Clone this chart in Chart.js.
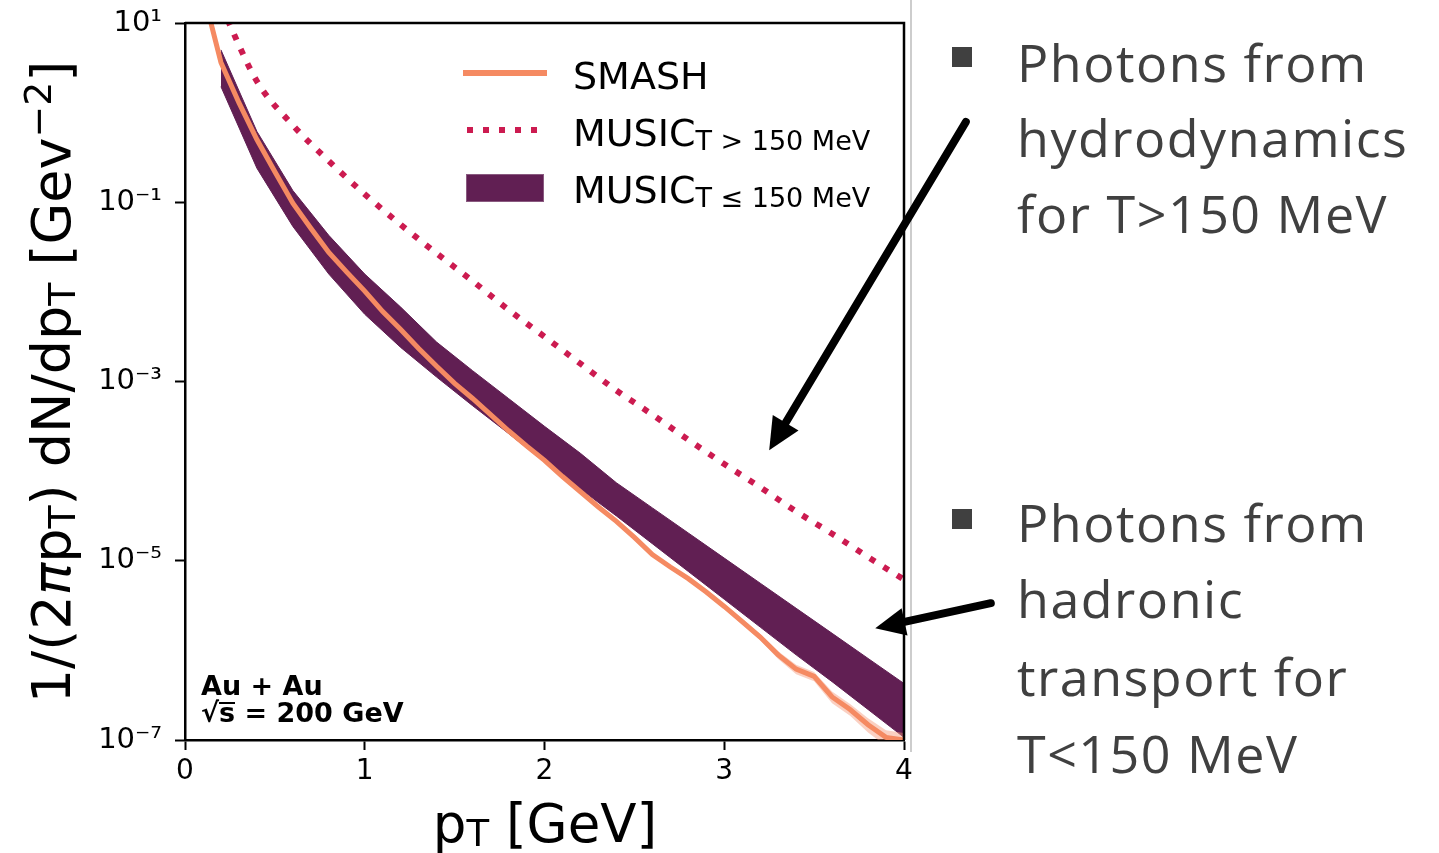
<!DOCTYPE html>
<html>
<head>
<meta charset="utf-8">
<script src="https://cdn.jsdelivr.net/npm/chart.js@4"></script>
<style>
  body { margin: 0; background: #fff; }
  #wrap { position: relative; width: 1439px; height: 853px; overflow: hidden; }
  #plot { position: absolute; left: 0; top: 0; }
  .t { position: absolute; white-space: nowrap; line-height: 1; font-family: "DejaVu Sans"; color: #000; }
  .sub { font-size: 0.7em; position: relative; top: 0.12em; }
  .sup { font-size: 0.7em; position: relative; top: -0.5em; }
  .leg { font-size: 38px; }
  .leg .sub { font-size: 27px; top: 4px; }
  .bold { font-weight: bold; font-size: 27px; }
  .bar { display: inline-block; border-top: 2.5px solid #000; line-height: 17px; }
  .note { font-family: "Open Sans"; font-size: 52px; letter-spacing: 1.5px; color: #404040; left: 1017px; }
  .bullet { position: absolute; width: 20px; height: 20px; background: #404040; left: 952px; }
</style>
</head>
<body>
<div id="wrap">
  <canvas id="plot" width="1439" height="853"></canvas>

  <div class="t leg" style="left:573px; top:57px;">SMASH</div>
  <div class="t leg" style="left:573px; top:114px;">MUSIC<span class="sub">T &gt; 150 MeV</span></div>
  <div class="t leg" style="left:573px; top:171px;">MUSIC<span class="sub">T ≤ 150 MeV</span></div>

  <div class="t bold" style="left:201px; top:672px;">Au + Au</div>
  <div class="t bold" style="left:201px; top:699px;">√<span class="bar">s</span> = 200 GeV</div>

  <div class="t" style="left:345px; top:797px; width:400px; text-align:center; font-size:53px;">p<span class="sub">T</span> [GeV]</div>
  <div class="t" style="left:-348px; top:355px; width:800px; text-align:center; font-size:54px; transform:rotate(-90deg);">1/(2<i>π</i>p<span class="sub">T</span>) dN/dp<span class="sub">T</span> [Gev<span class="sup">−2</span>]</div>

  <div class="bullet" style="top:47px;"></div>
  <div class="t note" style="top:36px;">Photons from</div>
  <div class="t note" style="top:111px;">hydrodynamics</div>
  <div class="t note" style="top:187px;">for T&gt;150 MeV</div>

  <div class="bullet" style="top:509px;"></div>
  <div class="t note" style="top:496px;">Photons from</div>
  <div class="t note" style="top:572px;">hadronic</div>
  <div class="t note" style="top:650px;">transport for</div>
  <div class="t note" style="top:727px;">T&lt;150 MeV</div>
</div>

<script>
// transverse momentum grid of the SMASH spectrum
const pT = [0.1, 0.2, 0.3, 0.4, 0.5, 0.6, 0.7, 0.8, 0.9, 1.0,
            1.1, 1.2, 1.3, 1.4, 1.5, 1.6, 1.7, 1.8, 1.9, 2.0,
            2.1, 2.2, 2.3, 2.4, 2.5, 2.6, 2.7, 2.8, 2.9, 3.0,
            3.1, 3.2, 3.3, 3.4, 3.5, 3.6, 3.7, 3.8, 3.9, 4.0];
const smash = [2.24e1, 3.63e0, 1.29e0, 5.01e-1, 2.19e-1, 9.77e-2, 5.13e-2, 2.75e-2, 1.66e-2, 1.02e-2,
               6.03e-3, 3.80e-3, 2.34e-3, 1.48e-3, 9.55e-4, 6.46e-4, 4.27e-4, 2.82e-4, 1.91e-4, 1.32e-4,
               8.71e-5, 5.89e-5, 3.98e-5, 2.75e-5, 1.82e-5, 1.17e-5, 8.51e-6, 6.31e-6, 4.47e-6, 3.09e-6,
               2.09e-6, 1.41e-6, 8.91e-7, 6.17e-7, 5.13e-7, 3.02e-7, 2.19e-7, 1.48e-7, 1.07e-7, 1.00e-7];
// relative statistical error of SMASH
const smashErr = [0.03, 0.03, 0.03, 0.03, 0.03, 0.03, 0.03, 0.03, 0.03, 0.03,
                  0.03, 0.03, 0.03, 0.03, 0.03, 0.03, 0.03, 0.03, 0.03, 0.03,
                  0.03, 0.03, 0.03, 0.03, 0.04, 0.05, 0.05, 0.05, 0.06, 0.06,
                  0.08, 0.08, 0.10, 0.12, 0.12, 0.15, 0.15, 0.18, 0.20, 0.20];

// hydro grid
const hydroPt = [0.2, 0.4, 0.6, 0.8, 1.0, 1.2, 1.4, 1.6, 1.8, 2.0,
                 2.2, 2.4, 2.6, 2.8, 3.0, 3.2, 3.4, 3.6, 3.8, 4.0];
const musicHot = [1.58e1, 2.24e0, 7.24e-1, 2.88e-1, 1.23e-1, 5.62e-2, 2.69e-2, 1.32e-2, 6.31e-3, 3.16e-3,
                  1.58e-3, 7.94e-4, 4.27e-4, 2.24e-4, 1.20e-4, 6.61e-5, 3.55e-5, 2.00e-5, 1.10e-5, 6.17e-6];
const musicColdHigh = [5.01e0, 6.17e-1, 1.35e-1, 4.27e-2, 1.58e-2, 6.76e-3, 2.75e-3, 1.32e-3, 6.46e-4, 3.16e-4,
                       1.58e-4, 7.41e-5, 3.89e-5, 2.04e-5, 1.07e-5, 5.62e-6, 2.95e-6, 1.55e-6, 8.13e-7, 4.27e-7];
const musicColdLow = [1.95e0, 2.40e-1, 5.37e-2, 1.58e-2, 5.62e-3, 2.40e-3, 1.12e-3, 5.37e-4, 2.63e-4, 1.26e-4,
                      6.31e-5, 3.16e-5, 1.55e-5, 7.59e-6, 3.72e-6, 1.82e-6, 8.91e-7, 4.47e-7, 2.19e-7, 1.07e-7];

const xTicks = [0, 1, 2, 3, 4];
const yTicks = [1e1, 1e-1, 1e-3, 1e-5, 1e-7];
const yTickLabels = ['10¹', '10⁻¹', '10⁻³', '10⁻⁵', '10⁻⁷'];

// arrows pointing from the side notes into the plot, in (pT, yield)
const hydroArrow = [[4.344, 0.785], [3.25, 1.71e-4]];
const hadronArrow = [[4.483, 3.36e-6], [3.84, 1.77e-6]];

const ORANGE = '#f58a62';
const CRIMSON = '#cc1b50';
const PURPLE = '#611f53';

const pts = (xs, ys) => xs.map((x, i) => ({ x: x, y: ys[i] }));

const framePlugin = {
    id: 'frame',
    afterDatasetsDraw(chart) {
        const { ctx, chartArea: a } = chart;
        ctx.save();
        ctx.strokeStyle = '#000';
        ctx.lineWidth = 2.5;
        ctx.beginPath();
        ctx.moveTo(a.left, a.top);
        ctx.lineTo(a.right, a.top);
        ctx.lineTo(a.right, a.bottom);
        ctx.stroke();
        // thin rule just right of the frame
        ctx.strokeStyle = '#bdbdbd';
        ctx.lineWidth = 1.5;
        ctx.beginPath();
        ctx.moveTo(a.right + 7, 0);
        ctx.lineTo(a.right + 7, a.bottom + 12);
        ctx.stroke();
        ctx.restore();
    },
    afterDraw(chart) {
        const { ctx } = chart;
        const xs = chart.scales.x, ys = chart.scales.y;

        // legend keys
        ctx.save();
        ctx.lineCap = 'butt';
        ctx.strokeStyle = ORANGE;
        ctx.lineWidth = 6;
        ctx.beginPath(); ctx.moveTo(463, 73); ctx.lineTo(547, 73); ctx.stroke();
        ctx.strokeStyle = CRIMSON;
        ctx.setLineDash([6, 10]);
        ctx.beginPath(); ctx.moveTo(467, 130); ctx.lineTo(540, 130); ctx.stroke();
        ctx.setLineDash([]);
        ctx.fillStyle = PURPLE;
        ctx.fillRect(466, 174, 78, 28);
        ctx.strokeStyle = '#8a5a80';
        ctx.lineWidth = 1;
        ctx.strokeRect(466.5, 174.5, 77, 27);
        ctx.restore();

        // arrows
        const arrow = (pair, head, half) => {
            const x0 = xs.getPixelForValue(pair[0][0]), y0 = ys.getPixelForValue(pair[0][1]);
            const x1 = xs.getPixelForValue(pair[1][0]), y1 = ys.getPixelForValue(pair[1][1]);
            const len = Math.hypot(x1 - x0, y1 - y0);
            const ux = (x1 - x0) / len, uy = (y1 - y0) / len;
            ctx.save();
            ctx.strokeStyle = '#000';
            ctx.fillStyle = '#000';
            ctx.lineWidth = 8;
            ctx.lineCap = 'round';
            ctx.beginPath();
            ctx.moveTo(x0, y0);
            ctx.lineTo(x1 - ux * head * 0.8, y1 - uy * head * 0.8);
            ctx.stroke();
            const bx = x1 - ux * head, by = y1 - uy * head;
            ctx.beginPath();
            ctx.moveTo(x1, y1);
            ctx.lineTo(bx - uy * half, by + ux * half);
            ctx.lineTo(bx + uy * half, by - ux * half);
            ctx.closePath();
            ctx.fill();
            ctx.restore();
        };
        arrow(hydroArrow, 32, 15);
        arrow(hadronArrow, 30, 14);
    }
};

new Chart(document.getElementById('plot'), {
    type: 'line',
    data: {
        datasets: [
            {
                label: 'SMASH',
                data: pts(pT, smash),
                borderColor: ORANGE,
                borderWidth: 5,
                pointRadius: 0,
                fill: false,
                order: 0
            },
            {
                label: 'SMASH err high',
                data: pts(pT, smash.map((v, i) => v * (1 + smashErr[i]))),
                borderWidth: 0,
                pointRadius: 0,
                backgroundColor: 'rgba(245, 150, 120, 0.45)',
                fill: '+1',
                order: 1
            },
            {
                label: 'SMASH err low',
                data: pts(pT, smash.map((v, i) => v * (1 - smashErr[i]))),
                borderWidth: 0,
                pointRadius: 0,
                fill: false,
                order: 1
            },
            {
                label: 'MUSIC T<=150 high',
                data: pts(hydroPt, musicColdHigh),
                borderColor: PURPLE,
                borderWidth: 1,
                pointRadius: 0,
                backgroundColor: PURPLE,
                fill: '+1',
                order: 2
            },
            {
                label: 'MUSIC T<=150 low',
                data: pts(hydroPt, musicColdLow),
                borderColor: PURPLE,
                borderWidth: 1,
                pointRadius: 0,
                fill: false,
                order: 2
            },
            {
                label: 'MUSIC T>150',
                data: pts(hydroPt, musicHot),
                borderColor: CRIMSON,
                borderWidth: 6,
                borderDash: [6, 10],
                borderCapStyle: 'butt',
                pointRadius: 0,
                fill: false,
                cubicInterpolationMode: 'monotone',
                order: 3
            }
        ]
    },
    options: {
        responsive: false,
        animation: false,
        layout: { padding: { top: 23, right: 1439 - 904, left: 0, bottom: 0 } },
        plugins: { legend: { display: false }, tooltip: { enabled: false } },
        scales: {
            x: {
                type: 'linear',
                min: 0,
                max: 4,
                afterFit: s => { s.height = 853 - 740; },
                afterBuildTicks: s => { s.ticks = xTicks.map(v => ({ value: v })); },
                border: { display: true, color: '#000', width: 2.5 },
                grid: { drawOnChartArea: false, drawTicks: true, tickLength: 10, tickWidth: 2, tickColor: '#000' },
                ticks: { color: '#000', padding: 5, font: { family: 'DejaVu Sans', size: 28 }, maxRotation: 0 }
            },
            y: {
                type: 'logarithmic',
                min: 1e-7,
                max: 1e1,
                // fixed axis width; the top label may overhang the frame
                afterFit: s => { s.width = 185; s.paddingTop = 0; s.paddingBottom = 0; },
                afterBuildTicks: s => { s.ticks = yTicks.map(v => ({ value: v })); },
                border: { display: true, color: '#000', width: 2.5 },
                grid: { drawOnChartArea: false, drawTicks: true, tickLength: 10, tickWidth: 2, tickColor: '#000' },
                ticks: {
                    color: '#000',
                    padding: 13,
                    font: { family: 'DejaVu Sans', size: 29 },
                    callback: v => {
                        const i = yTicks.findIndex(t => Math.abs(Math.log10(t) - Math.log10(v)) < 1e-6);
                        return i >= 0 ? yTickLabels[i] : '';
                    }
                }
            }
        }
    },
    plugins: [framePlugin]
});
</script>
</body>
</html>
